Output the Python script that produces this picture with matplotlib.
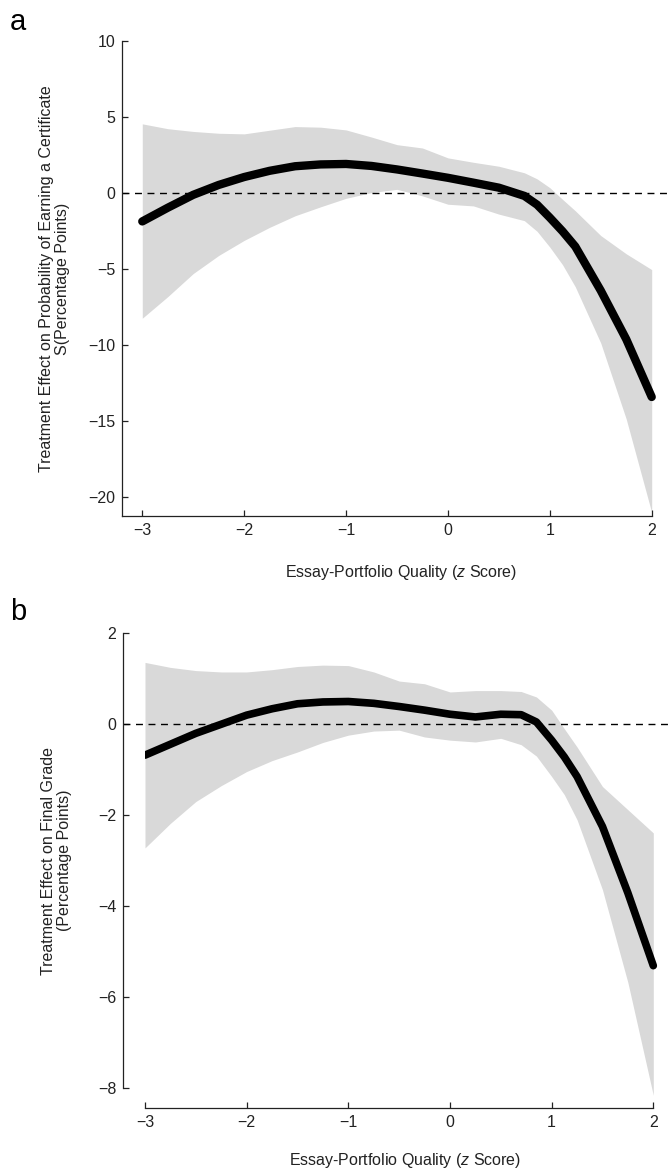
import matplotlib

matplotlib.use("Agg")
import matplotlib.pyplot as plt

plt.rcParams["font.family"] = ["Liberation Sans", "DejaVu Sans"]
plt.rcParams["mathtext.fontset"] = "custom"
plt.rcParams["mathtext.it"] = "Liberation Sans:italic"
plt.rcParams["mathtext.rm"] = "Liberation Sans"

# panel a: certificate
x_a = [-3.0, -2.75, -2.5, -2.25, -2.0, -1.75, -1.5, -1.25, -1.0, -0.75, -0.5, -0.25,
       0.0, 0.25, 0.5, 0.75, 0.875, 1.0, 1.125, 1.25, 1.5, 1.75, 2.0]
est_a = [-1.85, -0.95, -0.1, 0.55, 1.07, 1.48, 1.78, 1.9, 1.93, 1.8, 1.57, 1.3,
         1.02, 0.7, 0.37, -0.17, -0.75, -1.6, -2.5, -3.5, -6.4, -9.6, -13.4]
hi_a = [4.57, 4.25, 4.07, 3.95, 3.91, 4.15, 4.39, 4.35, 4.17, 3.7, 3.2, 2.98,
        2.33, 2.04, 1.78, 1.35, 0.95, 0.37, -0.4, -1.15, -2.78, -3.98, -5.02]
lo_a = [-8.22, -6.8, -5.28, -4.09, -3.1, -2.24, -1.48, -0.89, -0.33, 0.05, 0.26, -0.17,
        -0.72, -0.83, -1.37, -1.8, -2.5, -3.54, -4.7, -6.15, -9.85, -14.85, -21.0]

# panel b: final grade
x_b = [-3.0, -2.75, -2.5, -2.25, -2.0, -1.75, -1.5, -1.25, -1.0, -0.75, -0.5, -0.25,
       0.0, 0.25, 0.5, 0.7, 0.85, 1.0, 1.125, 1.25, 1.5, 1.75, 2.0]
est_b = [-0.68, -0.44, -0.2, 0.0, 0.2, 0.34, 0.45, 0.49, 0.5, 0.46, 0.39, 0.31,
         0.22, 0.16, 0.22, 0.21, 0.05, -0.35, -0.72, -1.15, -2.25, -3.71, -5.31]
hi_b = [1.36, 1.25, 1.18, 1.15, 1.15, 1.2, 1.27, 1.3, 1.29, 1.15, 0.95, 0.89,
        0.71, 0.74, 0.74, 0.72, 0.6, 0.31, -0.1, -0.5, -1.37, -1.88, -2.39]
lo_b = [-2.72, -2.18, -1.7, -1.35, -1.04, -0.8, -0.61, -0.4, -0.24, -0.15, -0.13, -0.28,
        -0.35, -0.39, -0.31, -0.45, -0.7, -1.15, -1.55, -2.1, -3.64, -5.68, -8.16]

yticks_a = [-20, -15, -10, -5, 0, 5, 10]
yticks_b = [-8, -6, -4, -2, 0, 2]
xticks = [-3, -2, -1, 0, 1, 2]

ylabel_a = "Treatment Effect on Probability of Earning a Certificate\nS(Percentage Points)"
ylabel_b = "Treatment Effect on Final Grade\n(Percentage Points)"
xlabel = "Essay-Portfolio Quality ($z$ Score)"

W, H = 668, 1170
fig = plt.figure(figsize=(W / 100, H / 100), dpi=100)

band = "#d9d9d9"
ink = "#222222"


def px_axes(left, right, top, bottom):
    return fig.add_axes((left / W, 1 - bottom / H, (right - left) / W, (bottom - top) / H))


def style(ax):
    ax.spines[["top", "right"]].set_visible(False)
    for s in ("left", "bottom"):
        ax.spines[s].set_linewidth(0.9)
        ax.spines[s].set_color(ink)
    ax.tick_params(direction="in", length=4, width=0.9, colors=ink, labelsize=11.5, pad=5)
    ax.set_xticks(xticks)


# panel a
ax1 = px_axes(122.3, W, 41.3, 516)
ax1.fill_between(x_a, lo_a, hi_a, color=band, lw=0)
ax1.plot(x_a, est_a, color="black", lw=6, solid_capstyle="round", solid_joinstyle="round")
ax1.axhline(0, color="black", lw=1, ls=(0, (5, 4)))
ax1.set_xlim(-3.196, 2 + (W - 651.7) / 101.9)
ax1.set_ylim(-21.23, 10)
ax1.set_yticks(yticks_a)
style(ax1)
ax1.spines["bottom"].set_bounds(-3.196, 2)
ax1.set_ylabel(ylabel_a, fontsize=11.5, color=ink, linespacing=1.05)
ax1.yaxis.set_label_coords((70 - 122.3) / (W - 122.3), 0.5)
ax1.set_xlabel(xlabel, fontsize=11.5, color=ink)
ax1.xaxis.set_label_coords((401 - 122.3) / (W - 122.3), -(563 - 516) / (516 - 41.3))
fig.text(10 / W, 1 - 8 / H, "a", fontsize=21, va="top", ha="left", color="black")

# panel b
ax2 = px_axes(145, W, 633.3, 1088)
ax2.fill_between(x_b, lo_b, hi_b, color=band, lw=0, clip_on=False)
ax2.plot(x_b, est_b, color="black", lw=5.5, solid_capstyle="round", solid_joinstyle="round")
ax2.axhline(0, xmin=-22 / (W - 145), color="black", lw=1, ls=(0, (5, 4)), clip_on=False)
ax2.set_xlim(-3, 2 + (W - 653.3) / 101.66)
ax2.set_ylim(-8, 2)
ax2.set_yticks(yticks_b)
style(ax2)
ax2.spines["left"].set_position(("outward", 15.6))
ax2.spines["bottom"].set_position(("outward", 14.2))
ax2.spines["left"].set_bounds(-8, 2)
ax2.spines["bottom"].set_bounds(-3, 2)
ax2.set_ylabel(ylabel_b, fontsize=11.5, color=ink, linespacing=1.05)
ax2.yaxis.set_label_coords((72 - 145) / (W - 145), 0.5)
ax2.set_xlabel(xlabel, fontsize=11.5, color=ink)
ax2.xaxis.set_label_coords((405 - 145) / (W - 145), -(1151 - 1088) / (1088 - 633.3))
fig.text(10 / W, 1 - 598 / H, "b", fontsize=21, va="top", ha="left", color="black")

fig.savefig("out.png", dpi=100)
